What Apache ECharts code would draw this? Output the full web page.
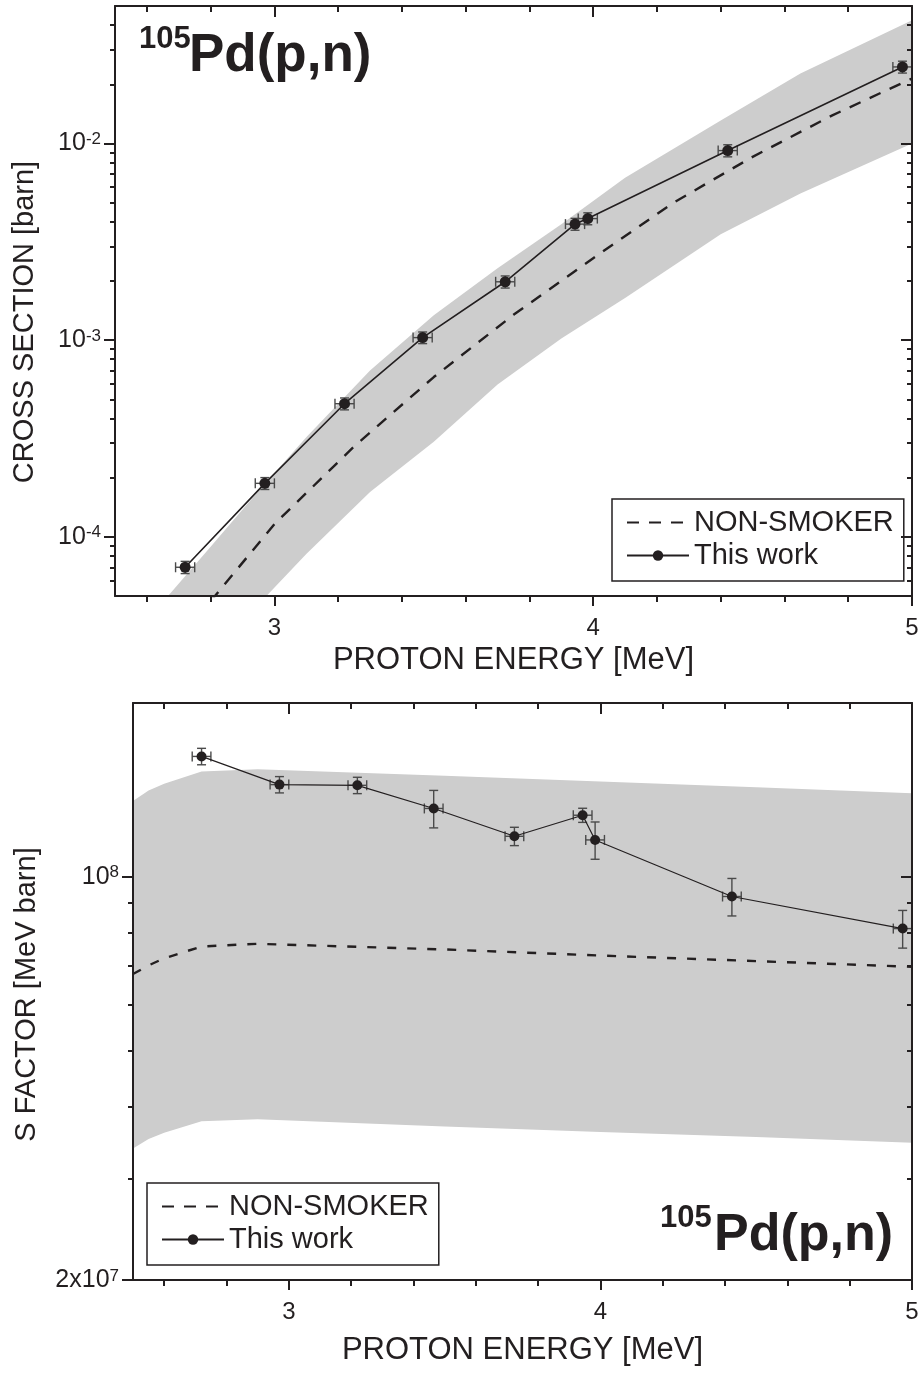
<!DOCTYPE html>
<html>
<head>
<meta charset="utf-8">
<script src="https://cdn.jsdelivr.net/npm/echarts@6/dist/echarts.min.js"></script>
<style>
html,body{margin:0;padding:0;background:#ffffff;}
#c{width:924px;height:1375px;}
</style>
</head>
<body>
<div id="c"></div>
<script>
// ------------------ DATA ------------------
// Measured points (shared energies for both panels)
const energy        = [2.72, 2.97, 3.22, 3.465, 3.724, 3.943, 3.983, 4.422, 4.97];
const energyErr     = [0.03, 0.03, 0.03, 0.03, 0.03, 0.03, 0.03, 0.03, 0.03];
const crossSection  = [7.0e-5, 1.87e-4, 4.75e-4, 1.03e-3, 1.98e-3, 3.89e-3, 4.15e-3, 9.2e-3, 2.45e-2];
const crossSectionErr = [0.5e-5, 1.3e-5, 3.3e-5, 0.07e-3, 0.14e-3, 0.27e-3, 0.29e-3, 0.65e-3, 0.17e-2];
const sFactor       = [1.616e8, 1.444e8, 1.440e8, 1.313e8, 1.175e8, 1.278e8, 1.158e8, 9.24e7, 8.13e7];
const sFactorErr    = [0.053e8, 0.047e8, 0.047e8, 0.098e8, 0.043e8, 0.036e8, 0.086e8, 0.069e8, 0.061e8];

// NON-SMOKER cross section (dashed) and its uncertainty band
const nsCrossE      = [2.8, 3.0, 3.25, 3.5, 3.75, 4.0, 4.25, 4.5, 4.75, 5.0];
const nsCross       = [4.70e-5, 1.16e-4, 2.88e-4, 6.49e-4, 1.345e-3, 2.61e-3, 4.98e-3, 8.55e-3, 1.39e-2, 2.14e-2];
const bandCrossE    = [2.65, 2.8, 2.95, 3.1, 3.3, 3.5, 3.7, 3.9, 4.1, 4.4, 4.65, 5.0];
const bandCrossLow  = [1.39e-5, 2.51e-5, 4.53e-5, 8.18e-5, 1.69e-4, 3.04e-4, 5.94e-4, 1.02e-3, 1.64e-3, 3.45e-3, 5.57e-3, 1.0e-2];
const bandCrossHigh = [4.66e-5, 8.9e-5, 1.71e-4, 3.21e-4, 7.0e-4, 1.34e-3, 2.32e-3, 3.88e-3, 6.7e-3, 1.31e-2, 2.27e-2, 4.23e-2];

// NON-SMOKER S factor (dashed) and its uncertainty band
const nsSE          = [2.5, 2.55, 2.6, 2.72, 2.9, 3.5, 4.0, 4.5, 5.0];
const nsS           = [6.78e7, 7.02e7, 7.22e7, 7.57e7, 7.65e7, 7.48e7, 7.30e7, 7.14e7, 6.98e7];
const bandSLow      = [3.38e7, 3.51e7, 3.60e7, 3.77e7, 3.80e7, 3.69e7, 3.61e7, 3.54e7, 3.46e7];
const bandSHigh     = [1.352e8, 1.41e8, 1.449e8, 1.521e8, 1.536e8, 1.496e8, 1.462e8, 1.429e8, 1.395e8];

// Axes / ticks
const energyRange   = [2.5, 5];
const energyMajor   = [3, 4, 5];
const energyMinor   = [2.6, 2.8, 3.2, 3.4, 3.6, 3.8, 4.2, 4.4, 4.6, 4.8];
const crossRange    = [5e-5, 5e-2];
const crossLabels   = [1e-4, 1e-3, 1e-2];
const sRange        = [2e7, 2e8];
const sLabels       = [2e7, 1e8];

const legendNames   = ['NON-SMOKER', 'This work'];
const xTitle        = 'PROTON ENERGY [MeV]';
const yTitleTop     = 'CROSS SECTION [barn]';
const yTitleBottom  = 'S FACTOR [MeV barn]';
// --------------------------------------------------------------------

const FONT = "'Liberation Sans', Arial, Helvetica, sans-serif";
const INK = '#231f20';
const BAND = '#cdcdcd';
const L = Math.log10;

function logMinor(range) {
  const out = [];
  const lo = range[0], hi = range[1];
  for (let d = Math.floor(L(lo)) - 1; d <= Math.ceil(L(hi)); d++) {
    for (let m = 2; m <= 9; m++) {
      const v = m * Math.pow(10, d);
      if (v > lo * 1.001 && v < hi * 0.999) out.push(L(v));
    }
  }
  return out;
}
function logMajor(range, extra) {
  const out = [];
  for (let d = Math.floor(L(range[0])); d <= Math.ceil(L(range[1])); d++) {
    const v = Math.pow(10, d);
    if (v >= range[0] * 0.999 && v <= range[1] * 1.001) out.push(d);
  }
  (extra || []).forEach(v => out.push(L(v)));
  return out;
}
function supLabel(v) {
  const e = Math.floor(v + 1e-9);
  const m = Math.round(Math.pow(10, v - e));
  if (m === 1) return '{b|10}{s|' + e + '}';
  return '{b|' + m + 'x10}{s|' + e + '}';
}
const richLab = {
  b: {fontSize: 25, color: INK, fontFamily: FONT},
  s: {fontSize: 17, color: INK, fontFamily: FONT, verticalAlign: 'top'}
};

function xAxes(g, withName, nameGap) {
  const base = {type: 'value', gridIndex: g, min: energyRange[0], max: energyRange[1], z: 10,
    splitLine: {show: false}};
  return [
    Object.assign({}, base, {position: 'bottom',
      axisLine: {show: true, onZero: false, lineStyle: {color: INK, width: 2}},
      axisTick: {show: true, inside: false, length: 10, customValues: energyMajor, lineStyle: {color: INK, width: 2}},
      axisLabel: {show: true, customValues: energyMajor, margin: 20, fontSize: 24, color: INK, fontFamily: FONT,
        formatter: v => String(Math.round(v))},
      name: withName, nameLocation: 'middle', nameGap: nameGap,
      nameTextStyle: {fontSize: 31, color: INK, fontFamily: FONT}}),
    Object.assign({}, base, {position: 'bottom',
      axisLine: {show: false, onZero: false},
      axisTick: {show: true, inside: false, length: 6, customValues: energyMinor, lineStyle: {color: INK, width: 2}},
      axisLabel: {show: false}}),
    Object.assign({}, base, {position: 'top',
      axisLine: {show: true, onZero: false, lineStyle: {color: INK, width: 2}},
      axisTick: {show: true, inside: true, length: 11, customValues: energyMajor, lineStyle: {color: INK, width: 2}},
      axisLabel: {show: false}}),
    Object.assign({}, base, {position: 'top',
      axisLine: {show: false, onZero: false},
      axisTick: {show: true, inside: true, length: 6, customValues: energyMinor, lineStyle: {color: INK, width: 2}},
      axisLabel: {show: false}})
  ];
}
function yAxes(g, range, labels, name, nameGap, namePad) {
  const mn = L(range[0]), mx = L(range[1]);
  const base = {type: 'value', gridIndex: g, min: mn, max: mx, z: 10, splitLine: {show: false}};
  const majors = logMajor(range, labels.filter(v => Math.abs(L(v) - Math.round(L(v))) > 1e-6));
  const labelVals = labels.map(v => L(v));
  const minors = logMinor(range);
  return [
    Object.assign({}, base, {position: 'left',
      axisLine: {show: true, onZero: false, lineStyle: {color: INK, width: 2}},
      axisTick: {show: true, inside: false, length: 11, customValues: majors, lineStyle: {color: INK, width: 2}},
      axisLabel: {show: true, customValues: labelVals, margin: 14, formatter: supLabel, rich: richLab,
        fontSize: 25, color: INK, fontFamily: FONT},
      name: name, nameLocation: 'middle', nameGap: nameGap,
      nameTextStyle: {fontSize: 29, color: INK, fontFamily: FONT, padding: namePad}}),
    Object.assign({}, base, {position: 'left',
      axisLine: {show: false, onZero: false},
      axisTick: {show: true, inside: false, length: 5, customValues: minors, lineStyle: {color: INK, width: 2}},
      axisLabel: {show: false}}),
    Object.assign({}, base, {position: 'right',
      axisLine: {show: true, onZero: false, lineStyle: {color: INK, width: 2}},
      axisTick: {show: true, inside: true, length: 11, customValues: majors, lineStyle: {color: INK, width: 2}},
      axisLabel: {show: false}}),
    Object.assign({}, base, {position: 'right',
      axisLine: {show: false, onZero: false},
      axisTick: {show: true, inside: true, length: 5, customValues: minors, lineStyle: {color: INK, width: 2}},
      axisLabel: {show: false}})
  ];
}

function areaLine(name, ai, xs, ys, color) {
  return {type: 'line', name: name, xAxisIndex: ai, yAxisIndex: ai, silent: true, z: 1,
    symbol: 'none', showSymbol: false, lineStyle: {width: 0, opacity: 0},
    areaStyle: {color: color, opacity: 1, origin: 'start'},
    data: xs.map((x, i) => [x, L(ys[i])])};
}
function dashedLine(name, ai, xs, ys, dash) {
  return {type: 'line', name: name, xAxisIndex: ai, yAxisIndex: ai, silent: true, z: 2,
    symbol: 'none', showSymbol: false,
    lineStyle: {color: INK, width: 2.4, type: dash},
    itemStyle: {color: INK},
    data: xs.map((x, i) => [x, L(ys[i])])};
}
function errBars(name, ai, vals, errs) {
  return {type: 'custom', name: name, xAxisIndex: ai, yAxisIndex: ai, silent: true, z: 3, clip: true,
    encode: {x: [0, 2, 3], y: [1, 4, 5]},
    data: energy.map((e, i) => [e, L(vals[i]), e - energyErr[i], e + energyErr[i],
      L(vals[i] - errs[i]), L(vals[i] + errs[i])]),
    renderItem: function (params, api) {
      const x = api.value(0), y = api.value(1);
      const pl = api.coord([api.value(2), y]);
      const pr = api.coord([api.value(3), y]);
      const pb = api.coord([x, api.value(4)]);
      const pt = api.coord([x, api.value(5)]);
      const st = {stroke: '#4a4a4a', lineWidth: 1.4, fill: null};
      const hc = 5, vc = 4.5;
      const ln = (x1, y1, x2, y2) => ({type: 'line', shape: {x1, y1, x2, y2}, style: st});
      return {type: 'group', children: [
        ln(pl[0], pl[1], pr[0], pr[1]),
        ln(pl[0], pl[1] - hc, pl[0], pl[1] + hc),
        ln(pr[0], pr[1] - hc, pr[0], pr[1] + hc),
        ln(pb[0], pb[1], pt[0], pt[1]),
        ln(pb[0] - vc, pb[1], pb[0] + vc, pb[1]),
        ln(pt[0] - vc, pt[1], pt[0] + vc, pt[1])
      ]};
    }};
}
function dataLine(name, ai, vals, size, width) {
  return {type: 'line', name: name, xAxisIndex: ai, yAxisIndex: ai, silent: true, z: 4,
    symbol: 'circle', symbolSize: size, showSymbol: true,
    itemStyle: {color: INK, borderWidth: 0},
    lineStyle: {color: INK, width: width},
    data: energy.map((e, i) => [e, L(vals[i])])};
}
function legendBox(left, top) {
  return {show: true, orient: 'vertical', left: left, top: top, selectedMode: false,
    padding: [9, 10, 11, 14], itemGap: 4, itemWidth: 62, itemHeight: 13,
    borderColor: INK, borderWidth: 1.5, backgroundColor: '#ffffff',
    textStyle: {fontSize: 29, color: INK, fontFamily: FONT},
    data: [
      {name: legendNames[0], itemStyle: {opacity: 0, color: 'rgba(0,0,0,0)', borderWidth: 0}},
      {name: legendNames[1]}
    ]};
}

const option = {
  animation: false,
  backgroundColor: '#ffffff',
  textStyle: {fontFamily: FONT, color: INK},
  grid: [
    {left: 115, top: 6, width: 797, height: 590, show: false},
    {left: 133, top: 703, width: 779, height: 577, show: false}
  ],
  xAxis: [].concat(xAxes(0, xTitle, 49), xAxes(1, xTitle, 55)),
  yAxis: [].concat(
    yAxes(0, crossRange, crossLabels, yTitleTop, 76, [0, 42, 0, 0]),
    yAxes(1, sRange, sLabels, yTitleBottom, 92, [0, 6, 0, 0])),
  legend: [legendBox(612, 499), legendBox(147, 1183)],
  series: [
    areaLine('xs-band-high', 0, bandCrossE, bandCrossHigh, BAND),
    areaLine('xs-band-low', 0, bandCrossE, bandCrossLow, '#ffffff'),
    dashedLine(legendNames[0], 0, nsCrossE, nsCross, [12, 10]),
    errBars('xs-err', 0, crossSection, crossSectionErr),
    dataLine(legendNames[1], 0, crossSection, 11, 1.6),
    areaLine('s-band-high', 4, nsSE, bandSHigh, BAND),
    areaLine('s-band-low', 4, nsSE, bandSLow, '#ffffff'),
    dashedLine(legendNames[0], 4, nsSE, nsS, [9, 11]),
    errBars('s-err', 4, sFactor, sFactorErr),
    dataLine(legendNames[1], 4, sFactor, 10, 1.2)
  ],
  graphic: [
    {type: 'text', x: 139, y: 24, z: 20, style: {text: '105', fontSize: 31, fontWeight: 'bold', fontFamily: FONT, fill: INK, align: 'left', verticalAlign: 'top'}},
    {type: 'text', x: 189, y: 30, z: 20, style: {text: 'Pd(p,n)', fontSize: 53, fontWeight: 'bold', fontFamily: FONT, fill: INK, align: 'left', verticalAlign: 'top'}},
    {type: 'text', x: 660, y: 1203, z: 20, style: {text: '105', fontSize: 31, fontWeight: 'bold', fontFamily: FONT, fill: INK, align: 'left', verticalAlign: 'top'}},
    {type: 'text', x: 714, y: 1210, z: 20, style: {text: 'Pd(p,n)', fontSize: 52, fontWeight: 'bold', fontFamily: FONT, fill: INK, align: 'left', verticalAlign: 'top'}}
  ]
};

const chart = echarts.init(document.getElementById('c'), null, {renderer: 'canvas', width: 924, height: 1375});
chart.setOption(option);
</script>
</body>
</html>
